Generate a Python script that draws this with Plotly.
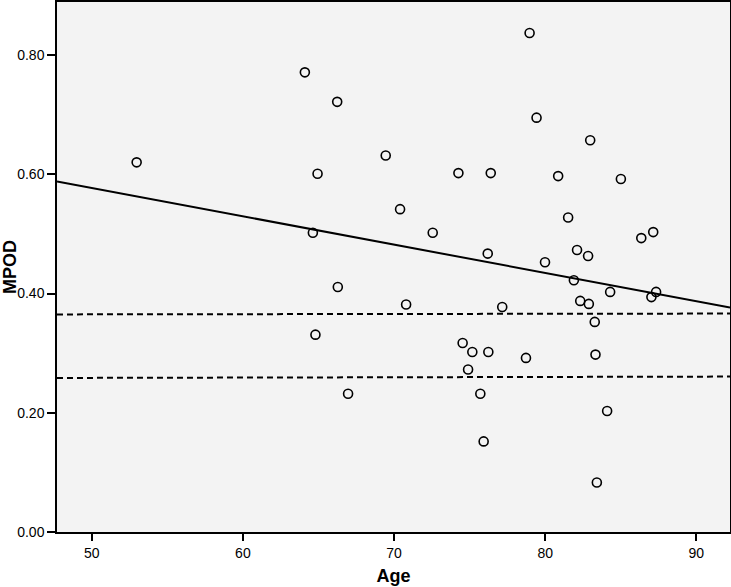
import plotly.graph_objects as go

# Age / MPOD readings
age = [52.97, 64.10, 66.24, 69.45, 64.94, 74.26, 76.40, 70.40, 72.56, 64.63,
       76.20, 66.28, 78.97, 79.43, 82.98, 80.86, 85.01, 81.52, 86.36, 87.15,
       82.11, 82.84, 79.99, 81.90, 84.30, 87.34, 87.03, 82.32, 82.89, 77.16,
       83.28, 76.24, 78.73, 83.33, 84.10, 75.93, 83.42, 70.80, 64.80, 74.54,
       75.18, 74.90, 66.96, 75.71]
mpod = [0.620, 0.771, 0.7215, 0.6315, 0.601, 0.602, 0.602, 0.5415, 0.502, 0.502,
        0.467, 0.411, 0.837, 0.695, 0.657, 0.597, 0.592, 0.5275, 0.493, 0.503,
        0.473, 0.463, 0.4525, 0.4223, 0.4027, 0.4027, 0.394, 0.3876, 0.3826, 0.3775,
        0.3524, 0.302, 0.292, 0.2976, 0.203, 0.152, 0.083, 0.3815, 0.331, 0.317,
        0.302, 0.2725, 0.232, 0.232]

# fit line and the two dashed reference lines (ends at the axis limits)
x_ends = [47.7, 92.23]
fit_y = [0.588, 0.3765]
upper_y = [0.365, 0.3664]
lower_y = [0.2584, 0.2607]

fig = go.Figure()

fig.add_trace(go.Scatter(x=x_ends, y=fit_y, mode='lines',
                         line=dict(color='black', width=2), showlegend=False))
fig.add_trace(go.Scatter(x=x_ends, y=upper_y, mode='lines',
                         line=dict(color='black', width=2, dash='6px,4px'), showlegend=False))
fig.add_trace(go.Scatter(x=x_ends, y=lower_y, mode='lines',
                         line=dict(color='black', width=2, dash='6px,4px'), showlegend=False))

fig.add_trace(go.Scatter(
    x=age, y=mpod, mode='markers',
    marker=dict(symbol='circle-open', size=9, color='black', line=dict(width=1.6)),
    showlegend=False
))

axis_font = dict(family='Liberation Sans, Arial, sans-serif', size=14, color='black')

fig.update_layout(
    width=731, height=587,
    margin=dict(l=57, r=1, t=2, b=55, autoexpand=False),
    paper_bgcolor='white',
    plot_bgcolor='#f3f3f3',
    font=axis_font,
    xaxis=dict(
        range=x_ends, tickvals=[50, 60, 70, 80, 90],
        showgrid=False, zeroline=False, automargin=False,
        showline=True, linecolor='black', linewidth=1.5, mirror=True,
        ticks='outside', ticklen=7, tickwidth=1.6, tickcolor='black',
        title=dict(text='<b>Age</b>', font=dict(size=18), standoff=10),
    ),
    yaxis=dict(
        range=[0, 0.889], tickvals=[0, 0.2, 0.4, 0.6, 0.8], tickformat='.2f',
        showgrid=False, zeroline=False, automargin=False,
        showline=True, linecolor='black', linewidth=1.5, mirror=True,
        ticks='outside', ticklen=8, tickwidth=1.6, tickcolor='black',
        title=dict(text='<b>MPOD</b>', font=dict(size=18), standoff=2),
    ),
)

# drop the default body margin so the figure sits at the page corner
fig.write_html("out.html", config={'displayModeBar': False},
               post_script="document.body.style.margin='0';")
